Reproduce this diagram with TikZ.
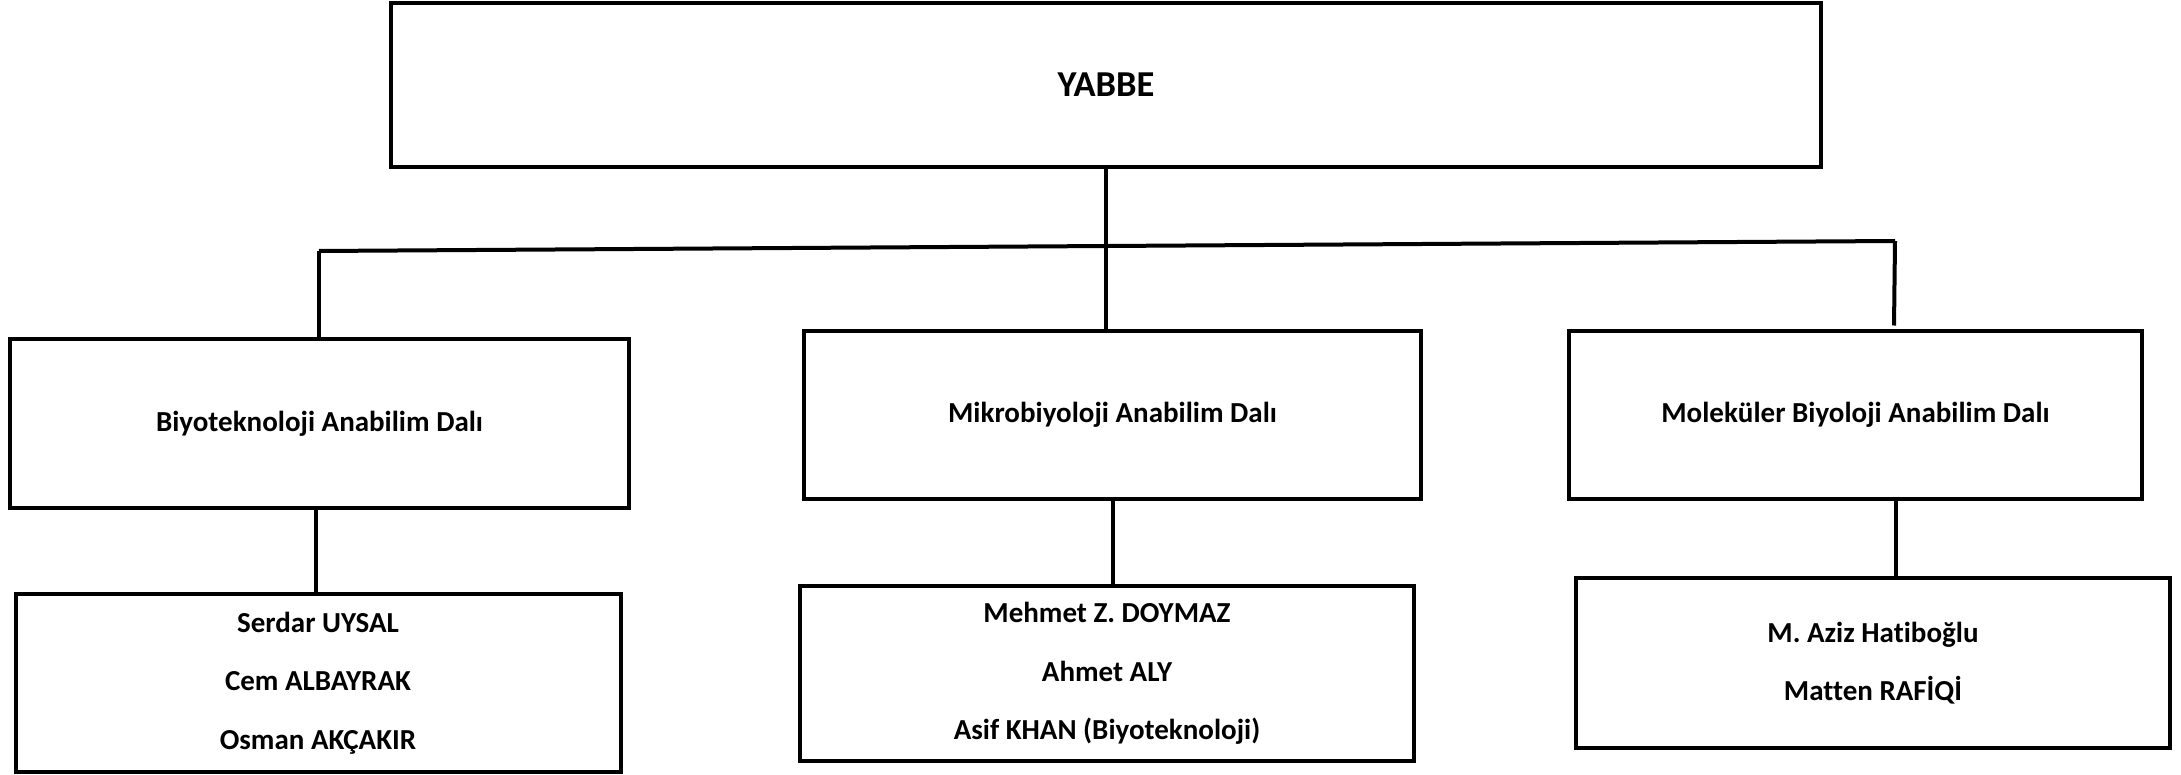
\documentclass[tikz,border=0pt]{standalone}
\usepackage{fontspec}
\setmainfont{Carlito}[Ligatures={NoCommon}]
\tikzset{
  box/.style={draw=black, line width=4pt, rectangle, inner sep=0pt, align=center, font=\bfseries\fontsize{29}{58.6}\selectfont},
  conn/.style={draw=black, line width=4pt},
}
\begin{document}
\begin{tikzpicture}[x=1pt,y=-1pt]
\useasboundingbox (0,0) rectangle (2181,775);
\fill[white] (0,0) rectangle (2181,775);
\node[box, minimum width=1430pt, minimum height=164pt, font=\bfseries\fontsize{36.5}{40}\selectfont] (top) at (1106,85) {YABBE};
\node[box, minimum width=619pt, minimum height=168pt] (b1) at (319.5,423.5) {Biyoteknoloji Anabilim Dalı};
\node[box, minimum width=617pt, minimum height=167.5pt] (b2) at (1112.5,415) {Mikrobiyoloji Anabilim Dalı};
\node[box, minimum width=573pt, minimum height=167.6pt] (b3) at (1855.5,415) {Moleküler Biyoloji Anabilim Dalı};
\node[box, minimum width=605pt, minimum height=177.5pt] (p1) at (318,683) {Serdar UYSAL\\Cem ALBAYRAK\\Osman AKÇAKIR};
\node[box, minimum width=614pt, minimum height=175pt] (p2) at (1107,673.5) {Mehmet Z. DOYMAZ\\Ahmet ALY\\Asif KHAN (Biyoteknoloji)};
\node[box, minimum width=594pt, minimum height=170pt] (p3) at (1873,663) {M. Aziz Hatiboğlu\\Matten RAFİQİ};
\coordinate (hl) at (319,251);
\coordinate (hm) at (1106,246.2);
\coordinate (hr) at (1895,241);
\coordinate (er) at (1894,325.5);
\draw[conn] (top.south) -- (hm);
\draw[conn] (hl) -- (hr);
\draw[conn] (hl) -- (hl |- b1.north);
\draw[conn] (hm) -- (hm |- b2.north);
\draw[conn] (hr) -- (er);
\draw[conn] ([xshift=-3.9pt]b1.south) -- ([xshift=-2.4pt]p1.north);
\draw[conn] (b2.south) -- (b2.south |- p2.north);
\draw[conn] ([xshift=40.5pt]b3.south) -- ([xshift=23pt]p3.north);
\end{tikzpicture}
\end{document}
